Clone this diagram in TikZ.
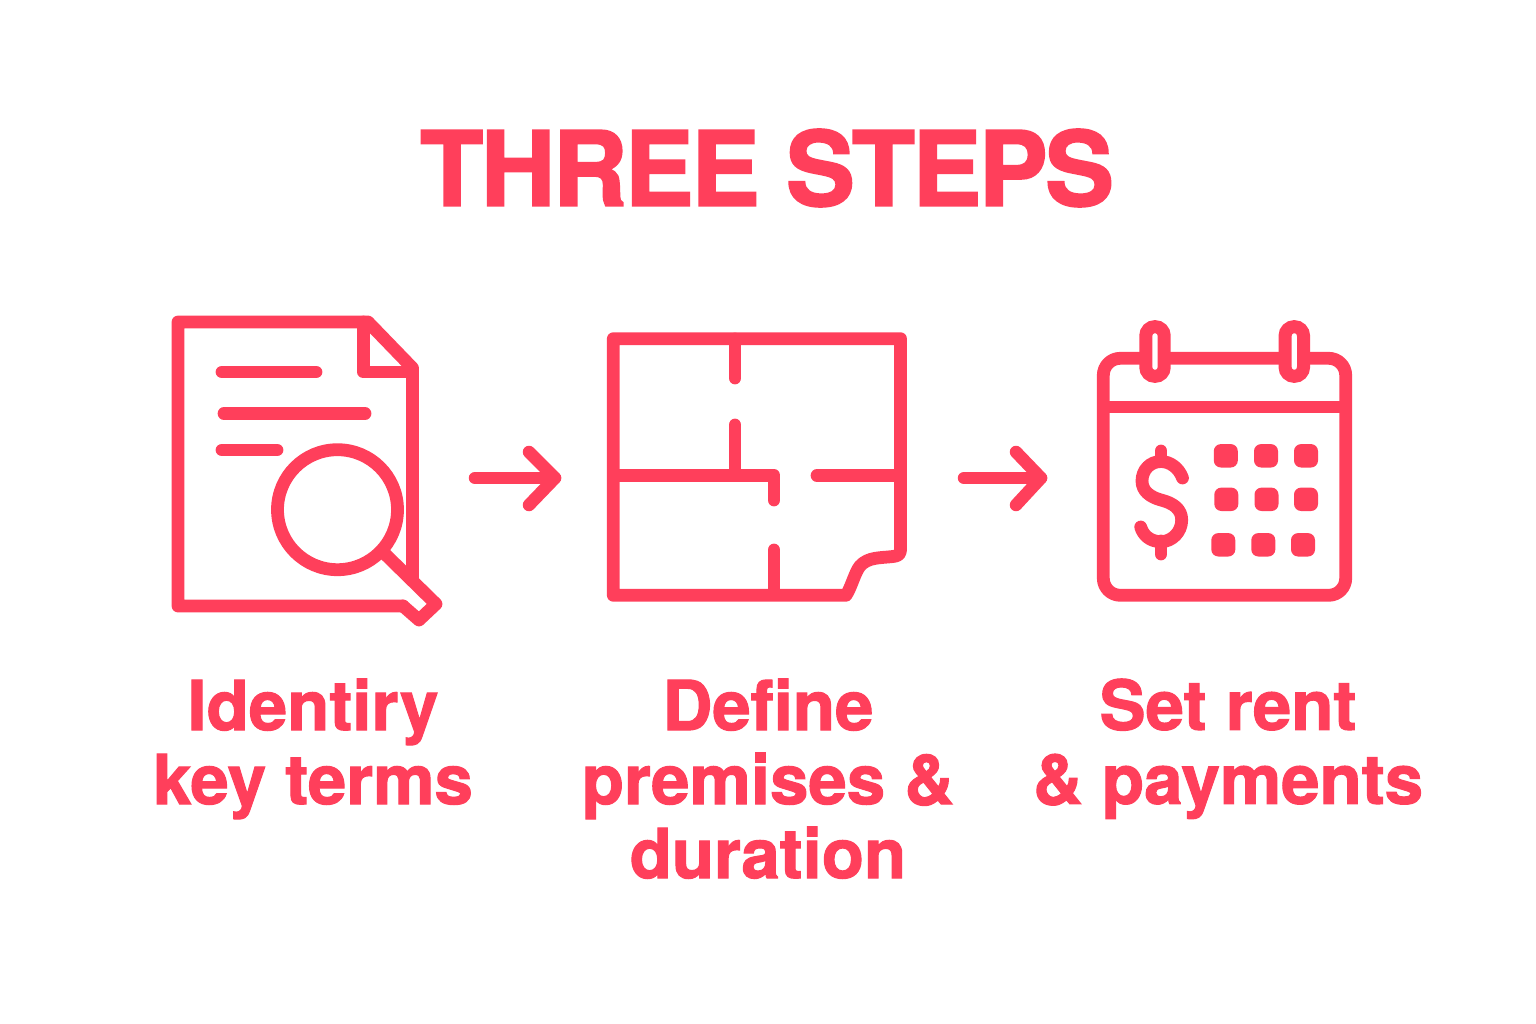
\documentclass[tikz,border=0pt]{standalone}
\usepackage{fontspec}
\setmainfont{TeX Gyre Heros}
\usetikzlibrary{arrows.meta}
\definecolor{brand}{HTML}{FF3F5B}
\tikzset{
  x=1pt,y=-1pt,
  icon/.style={draw=brand,line width=12.8pt,line join=round,line cap=round},
  flow/.style={draw=brand,line width=12.5pt,line cap=round,line join=round},
  dot/.style={fill=brand,rounded corners=7pt},
  ttl/.style={text=brand,font=\fontsize{103}{103}\selectfont\bfseries\addfontfeature{LetterSpace=-2.3,FakeBold=2},anchor=center,inner sep=0pt},
  lbl/.style={text=brand,font=\fontsize{69}{74}\selectfont\bfseries\addfontfeature{FakeBold=1.5},align=center,anchor=north,inner sep=0pt},
}
\newcommand{\firstline}{\rule{0pt}{50pt}}
\begin{document}
\begin{tikzpicture}
\useasboundingbox (0,0) rectangle (1536,1024);
\fill[white] (0,0) rectangle (1536,1024);
\node[ttl] (title) at (767,168) {THREE STEPS};
% document icon
\draw[icon] (403,606) -- (178,606) -- (178,322) -- (368,322) -- (412.5,368) -- (412.5,578);
\draw[icon] (363.5,322) -- (363.5,372) -- (412.5,372);
\draw[icon] (222,372) -- (316,372);
\draw[icon] (224,413.5) -- (365,413.5);
\draw[icon] (222,450) -- (277,450);
\draw[icon] (337.5,509.7) circle (60);
\draw[icon] (385,554) -- (436,604) -- (419,620) -- (403,606);
% floor plan icon
\draw[icon] (613.3,338.7) -- (900.5,338.7) -- (900.5,550)
  .. controls (900.5,555) and (897,556) .. (893,556.5)
  .. controls (880,558) and (868,557) .. (860,566)
  .. controls (855,572) and (851,588) .. (846,595.3)
  -- (613.3,595.3) -- cycle;
\draw[icon] (735,339) -- (735,378);
\draw[icon] (735,425) -- (735,475.5);
\draw[icon] (620,475.5) -- (774,475.5) -- (774,500);
\draw[icon] (817,475.5) -- (895,475.5);
\draw[icon] (774,550) -- (774,592);
% calendar icon
\draw[icon,line cap=butt] (1103.3,407) -- (1345.7,407);
\draw[icon,rounded corners=17pt] (1103.3,358.3) rectangle (1345.7,595.3);
\foreach \cx in {1155,1294.3}{
  \draw[draw=brand,fill=white,line width=13pt,rounded corners=9pt] (\cx-9.2,326.7) rectangle (\cx+9.2,376.3);
}
\draw[icon] (1161,451) -- (1161,460);
\draw[icon] (1161,541) -- (1161,554);
\draw[icon] (1182.5,478)
  .. controls (1179,468) and (1170,461.5) .. (1161,461.5)
  .. controls (1150,461.5) and (1142,470) .. (1142,481)
  .. controls (1142,491) and (1150,497) .. (1161,500)
  .. controls (1173,503) and (1181.7,509) .. (1181.7,520)
  .. controls (1181.7,532) and (1172,541.7) .. (1161,541.7)
  .. controls (1150,541.7) and (1143,535) .. (1140.7,527);
\foreach \px/\py in {1225.8/455.8,1266/455.8,1306/455.8,1226.3/499.3,1266.5/499.3,1306/499.3,1223.3/544.8,1263.3/544.8,1303/544.8}{
  \fill[dot] (\px-12,\py-11.7) rectangle (\px+12,\py+11.7);
}
% flow arrows
\coordinate (a1s) at (475,478);
\coordinate (a1e) at (555,478);
\coordinate (a1u) at (529,452);
\coordinate (a1d) at (529,505);
\draw[flow] (a1s) -- (a1e);
\draw[flow] (a1u) -- (a1e) -- (a1d);
\coordinate (a2s) at (964,478);
\coordinate (a2e) at (1041,478);
\coordinate (a2u) at (1016,452);
\coordinate (a2d) at (1016,505);
\draw[flow] (a2s) -- (a2e);
\draw[flow] (a2u) -- (a2e) -- (a2d);
% labels
\node[lbl] (l1) at (313,678.5) {\firstline Identiry\\key terms};
\node[lbl] (l2) at (768,678.5) {\firstline Define\\premises \&\\duration};
\node[lbl] (l3) at (1228,678.5) {\firstline Set rent\\\& payments};
\end{tikzpicture}
\end{document}
